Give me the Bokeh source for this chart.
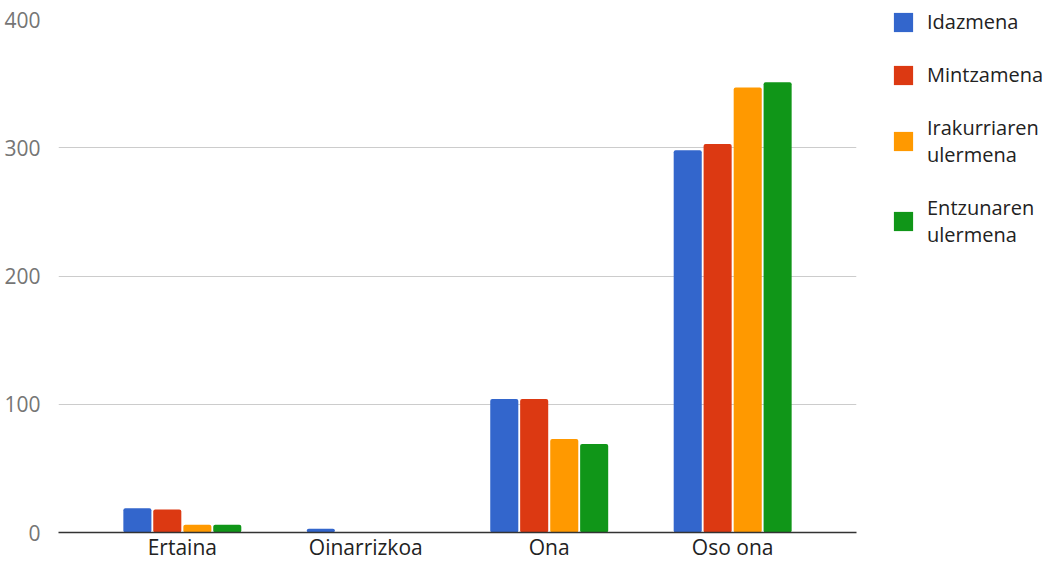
from bokeh.plotting import figure
from bokeh.models import ColumnDataSource, FactorRange, Range1d, Legend, LegendItem, FixedTicker
from bokeh.layouts import row
from bokeh.transform import dodge
from bokeh.embed import file_html
from bokeh.resources import INLINE

categories = ["Ertaina", "Oinarrizkoa", "Ona", "Oso ona"]
idazmena = [19, 3, 104, 298]
mintzamena = [18, 0, 104, 303]
irakurriaren = [6, 0, 73, 347]
entzunaren = [6, 0, 69, 351]
series_labels = ["Idazmena", "Mintzamena", "Irakurriaren\nulermena", "Entzunaren\nulermena"]
series_keys = ["idazmena", "mintzamena", "irakurriaren", "entzunaren"]
colors = ["#3366cc", "#dc3912", "#ff9900", "#109618"]
y_ticks = [0, 100, 200, 300, 400]

source = ColumnDataSource(dict(cat=categories, idazmena=idazmena, mintzamena=mintzamena,
                               irakurriaren=irakurriaren, entzunaren=entzunaren))

p = figure(frame_width=798, frame_height=513, output_backend="svg", toolbar_location=None,
           x_range=FactorRange(*categories, range_padding=0.0875),
           y_range=Range1d(0, 400),
           min_border_left=58, min_border_top=19, min_border_bottom=10, min_border_right=10)
p.outline_line_color = None
p.background_fill_color = "white"
p.border_fill_color = "white"

offsets = [-0.245, -0.082, 0.082, 0.245]
for key, col, off in zip(series_keys, colors, offsets):
    p.vbar(x=dodge("cat", off, range=p.x_range), top=key, width=0.153, source=source,
           fill_color=col, line_color=None, border_radius=2)

p.xgrid.grid_line_color = None
p.ygrid.grid_line_color = "#cccccc"
p.ygrid.ticker = FixedTicker(ticks=y_ticks)

p.yaxis.ticker = FixedTicker(ticks=y_ticks)
p.yaxis.axis_line_color = None
p.yaxis.major_tick_line_color = None
p.yaxis.minor_tick_line_color = None
p.yaxis.major_label_text_font = "Open Sans"
p.yaxis.major_label_text_font_size = "21px"
p.yaxis.major_label_text_color = "#757575"
p.yaxis.major_label_standoff = 12

p.xaxis.axis_line_color = "#333333"
p.xaxis.axis_line_width = 1.5
p.xaxis.major_tick_line_color = None
p.xaxis.minor_tick_line_color = None
p.xaxis.major_tick_out = 0
p.xaxis.major_label_text_font = "Open Sans"
p.xaxis.major_label_text_font_size = "21px"
p.xaxis.major_label_text_color = "#222222"
p.xaxis.major_label_text_line_height = 0.9
p.xaxis.major_label_standoff = 0

# legend panel (separate figure so the legend is not clipped by the chart frame)
lf = figure(width=182, height=558, output_backend="svg", toolbar_location=None,
            x_range=Range1d(0, 1), y_range=Range1d(0, 1),
            x_axis_type=None, y_axis_type=None,
            min_border_left=25, min_border_top=8, min_border_right=0, min_border_bottom=0)
try:
    lf.frame_align = False
except Exception:
    pass
lf.outline_line_color = None
lf.xgrid.grid_line_color = None
lf.ygrid.grid_line_color = None
leg_renderers = []
for key, col in zip(series_keys, colors):
    r = lf.vbar(x=[0.5], top=[0], width=0.1, fill_color=col, line_color=None, border_radius=3)
    leg_renderers.append(r)

legend = Legend(items=[LegendItem(label=lab, renderers=[r]) for lab, r in zip(series_labels, leg_renderers)],
                location="top_left", margin=0, padding=0, spacing=26,
                glyph_width=24, glyph_height=24, label_standoff=12,
                label_text_font="Open Sans", label_text_font_size="20px",
                label_text_line_height=1.7, label_text_color="#222222",
                border_line_color=None, background_fill_alpha=0)
lf.add_layout(legend)

layout = row(p, lf)
open("out.html", "w").write(file_html(layout, INLINE))
